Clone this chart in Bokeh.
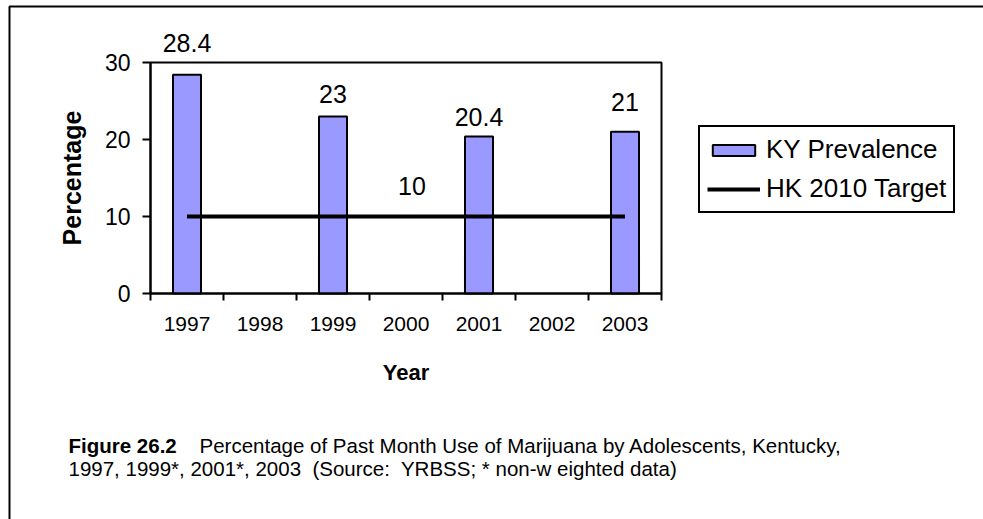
from bokeh.plotting import figure
from bokeh.models import (FixedTicker, Legend, LegendItem, BoxAnnotation,
                          ColumnDataSource, Range1d)
from bokeh.embed import file_html
from bokeh.resources import INLINE
from bokeh.core.properties import value

# ---------------- data ----------------
years = ["1997", "1998", "1999", "2000", "2001", "2002", "2003"]
ky_prevalence = [28.4, None, 23, None, 20.4, None, 21]
hk_target = [10, 10, 10, 10, 10, 10, 10]
target_label_year = "2000"
y_ticks = [0, 10, 20, 30]
y_max = 30

NBSP2 = "\u00a0 "   # keeps the double spaces of the original caption visible
caption_bold = "Figure 26.2"
caption_line1 = "Percentage of Past Month Use of Marijuana by Adolescents, Kentucky,"
caption_line2 = ("1997, 1999*, 2001*, 2003" + NBSP2 + "(Source:" + NBSP2 +
                 "YRBSS; * non-w eighted data)")

# ---------------- styles / layout ----------------
FONT = "Liberation Sans"
BAR_COLOR = "#9999FF"
bar_label_gaps = [32, 22, 19, 30]   # px between bar top and its label
target_label_gap = 31

W, H = 983, 519
X0_PX, XS = 150, 73.0      # pixel of x=0 and pixels per category
Y0_PX, YS = 293, 7.7       # pixel of y=0 and pixels per percent


def dx(px):
    return (px - X0_PX) / XS


def dy(py):
    return (Y0_PX - py) / YS


pos = {y: i + 0.5 for i, y in enumerate(years)}
bar_x = [pos[y] for y, v in zip(years, ky_prevalence) if v is not None]
bar_top = [v for v in ky_prevalence if v is not None]
bar_txt = [("%g" % v) for v in bar_top]

bars_src = ColumnDataSource(dict(x=bar_x, top=bar_top, txt=bar_txt,
                                 yoff=[-g for g in bar_label_gaps]))
line_src = ColumnDataSource(dict(x=[pos[y] for y in years], y=hk_target))

p = figure(width=W, height=H, x_range=Range1d(dx(0), dx(W)),
           y_range=Range1d(dy(H), dy(0)),
           output_backend="svg", toolbar_location=None, min_border=0)
p.grid.visible = False
p.outline_line_color = None
p.background_fill_color = "white"
p.border_fill_color = "white"

# outer picture frame
p.add_layout(BoxAnnotation(left=dx(9), right=dx(W + 50), top=dy(6), bottom=dy(H + 50),
                           fill_color=None, fill_alpha=0, line_color="black",
                           line_alpha=1, line_width=2))
# plot-area border
p.add_layout(BoxAnnotation(left=0, right=len(years), bottom=0, top=y_max,
                           fill_color=None, fill_alpha=0, line_color="black",
                           line_alpha=1, line_width=2, level="underlay"))

bars = p.vbar(x="x", top="top", width=0.384, source=bars_src,
              fill_color=BAR_COLOR, line_color="black", line_width=2)
line = p.line(x="x", y="y", source=line_src, line_color="black", line_width=4)

p.text(x="x", y="top", text="txt", source=bars_src, y_offset="yoff",
       text_align="center", text_baseline="alphabetic",
       text_font=value(FONT), text_font_size="25px", text_color="black")
ti = years.index(target_label_year)
p.text(x=[pos[target_label_year]], y=[hk_target[ti]], text=["%g" % hk_target[ti]],
       x_offset=6, y_offset=-target_label_gap, text_align="center",
       text_baseline="alphabetic",
       text_font=value(FONT), text_font_size="25px", text_color="black")

# x axis
xa = p.xaxis[0]
xa.fixed_location = 0
xa.bounds = (0, len(years))
xa.ticker = FixedTicker(ticks=[pos[y] for y in years],
                        minor_ticks=list(range(len(years) + 1)))
xa.major_label_overrides = {pos[y]: y for y in years}
xa.major_tick_line_color = None
xa.major_tick_out = 0
xa.major_tick_in = 0
xa.minor_tick_in = 0
xa.minor_tick_out = 7
xa.minor_tick_line_color = "black"
xa.minor_tick_line_width = 2
xa.axis_line_width = 2
xa.major_label_standoff = 16
xa.major_label_text_font = FONT
xa.major_label_text_font_size = "21px"
xa.major_label_text_color = "black"
xa.axis_label = "Year"
xa.axis_label_text_font = FONT
xa.axis_label_text_font_style = "bold"
xa.axis_label_text_font_size = "22px"
xa.axis_label_text_color = "black"
xa.axis_label_standoff = 26

# y axis
ya = p.yaxis[0]
ya.fixed_location = 0
ya.bounds = (0, y_max)
ya.ticker = FixedTicker(ticks=y_ticks, minor_ticks=[])
ya.major_tick_in = 0
ya.major_tick_out = 8
ya.major_tick_line_width = 2
ya.axis_line_width = 2
ya.major_label_standoff = 12
ya.major_label_text_font = FONT
ya.major_label_text_font_size = "23px"
ya.major_label_text_color = "black"
ya.axis_label = "Percentage"
ya.axis_label_text_font = FONT
ya.axis_label_text_font_style = "bold"
ya.axis_label_text_font_size = "25px"
ya.axis_label_text_color = "black"
ya.axis_label_standoff = 16

legend = Legend(items=[LegendItem(label="KY Prevalence", renderers=[bars]),
                       LegendItem(label="HK 2010 Target", renderers=[line])],
                location=(698, H - 213), orientation="vertical",
                border_line_color="black", border_line_width=2, border_line_alpha=1,
                background_fill_color="white", background_fill_alpha=1,
                label_text_font=FONT, label_text_font_size="26px",
                label_text_color="black",
                glyph_width=53, glyph_height=14, label_standoff=6,
                spacing=8, padding=7, margin=0)
p.add_layout(legend, "center")

# caption
cap_src = ColumnDataSource(dict(
    x=[dx(68), dx(199), dx(68)], y=[dy(445), dy(445), dy(468)],
    txt=[caption_bold, caption_line1, caption_line2],
    style=["bold", "normal", "normal"]))
p.text(x="x", y="y", text="txt", source=cap_src, text_font_style="style",
       text_font=value(FONT), text_font_size="20.5px", text_color="black",
       text_align="left", text_baseline="middle")

open("out.html", "w").write(file_html(p, INLINE))
